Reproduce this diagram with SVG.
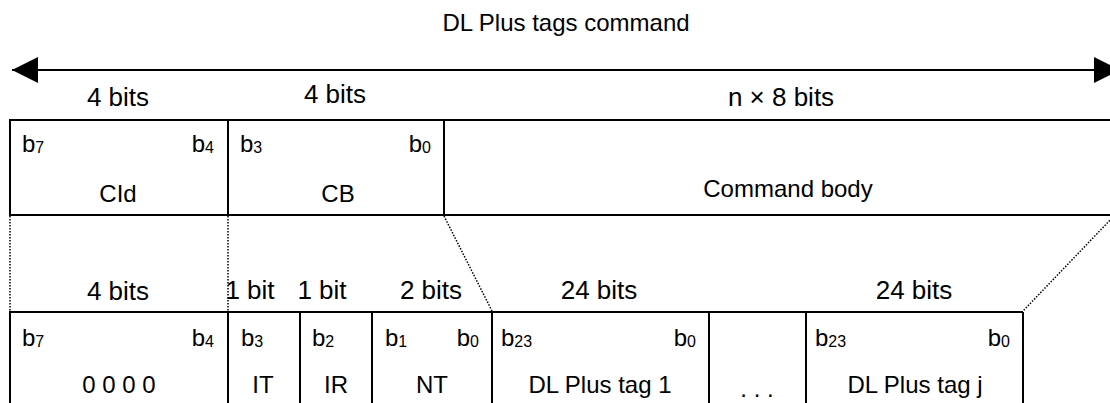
<svg xmlns="http://www.w3.org/2000/svg" width="1110" height="403" viewBox="0 0 1110 403">
  <defs>
    <marker id="head" viewBox="0 0 26 26" refX="26" refY="13" markerWidth="26" markerHeight="26" markerUnits="userSpaceOnUse" orient="auto-start-reverse">
      <path d="M0,0 L26,13 L0,26 Z" fill="#000"/>
    </marker>
  </defs>
  <style>
    text { font-family: "Liberation Sans", Arial, sans-serif; fill: #000; }
    .title { font-size: 24px; text-anchor: middle; }
    .width { font-size: 26px; text-anchor: middle; }
    .name { font-size: 24px; text-anchor: middle; }
    .bit { font-size: 24px; }
    .bit tspan { font-size: 16px; }
    .end { text-anchor: end; }
    .box { fill: none; stroke: #000; stroke-width: 2; }
    .dot { fill: none; stroke: #000; stroke-width: 1.5; stroke-dasharray: 1.5 1.5; }
    .span { stroke: #000; stroke-width: 2; }
  </style>

  <rect width="1110" height="403" fill="#fff"/>

  <!-- overall length of the command -->
  <g id="title">
    <text class="title" x="566" y="31">DL Plus tags command</text>
  </g>

  <!-- field widths, upper row -->
  <g id="upper-widths">
    <text class="width" x="118" y="106">4 bits</text>
    <text class="width" x="335" y="103">4 bits</text>
    <text class="width" x="781" y="106">n × 8 bits</text>
  </g>

  <!-- upper row: command octet and body -->
  <g id="upper-row">
    <path class="box" d="M1112,120 H10 V215 H1112"/>
    <path class="box" d="M228,120 V215 M444,120 V215"/>
  </g>
  <g id="cid">
    <text class="bit" x="22" y="152">b<tspan dy="1">7</tspan></text>
    <text class="bit end" x="214" y="152">b<tspan dy="1">4</tspan></text>
    <text class="name" x="118" y="202">CId</text>
  </g>
  <g id="cb">
    <text class="bit" x="240" y="152">b<tspan dy="1">3</tspan></text>
    <text class="bit end" x="431" y="152">b<tspan dy="1">0</tspan></text>
    <text class="name" x="338" y="202">CB</text>
  </g>
  <g id="command-body">
    <text class="name" x="788" y="197">Command body</text>
  </g>

  <!-- field widths, lower row -->
  <g id="lower-widths">
    <text class="width" x="118" y="300">4 bits</text>
    <text class="width" x="250" y="299">1 bit</text>
    <text class="width" x="322" y="299">1 bit</text>
    <text class="width" x="431" y="299">2 bits</text>
    <text class="width" x="599" y="299">24 bits</text>
    <text class="width" x="914" y="299">24 bits</text>
  </g>

  <!-- lower row: expanded fields -->
  <g id="lower-row">
    <path class="box" d="M1023,312 H10 V404"/>
    <path class="box" d="M228,312 V404 M300,312 V404 M372,312 V404 M492,312 V404 M709,312 V404 M806,312 V404 M1023,312 V404"/>
  </g>
  <g id="field-cid">
    <text class="bit" x="22" y="346">b<tspan dy="1">7</tspan></text>
    <text class="bit end" x="214" y="346">b<tspan dy="1">4</tspan></text>
    <text class="name" x="119" y="393">0 0 0 0</text>
  </g>
  <g id="field-it">
    <text class="bit" x="241" y="346">b<tspan dy="1">3</tspan></text>
    <text class="name" x="263" y="393">IT</text>
  </g>
  <g id="field-ir">
    <text class="bit" x="312" y="346">b<tspan dy="1">2</tspan></text>
    <text class="name" x="336" y="393">IR</text>
  </g>
  <g id="field-nt">
    <text class="bit" x="385" y="346">b<tspan dy="1">1</tspan></text>
    <text class="bit end" x="479" y="346">b<tspan dy="1">0</tspan></text>
    <text class="name" x="432" y="393">NT</text>
  </g>
  <g id="tag-1">
    <text class="bit" x="501" y="346">b<tspan dy="1">23</tspan></text>
    <text class="bit end" x="696" y="346">b<tspan dy="1">0</tspan></text>
    <text class="name" x="600" y="393">DL Plus tag 1</text>
  </g>
  <g id="ellipsis">
    <text class="name" x="757" y="397">. . .</text>
  </g>
  <g id="tag-j">
    <text class="bit" x="815" y="346">b<tspan dy="1">23</tspan></text>
    <text class="bit end" x="1010" y="346">b<tspan dy="1">0</tspan></text>
    <text class="name" x="915" y="393">DL Plus tag j</text>
  </g>

  <!-- connectors: span arrow and dotted expansion guides -->
  <g id="connectors">
    <line class="span" x1="12" y1="70" x2="1120" y2="70" marker-start="url(#head)" marker-end="url(#head)"/>
    <path class="dot" d="M10,216 V311"/>
    <path class="dot" d="M228,216 V311"/>
    <path class="dot" d="M444,216 L492,311"/>
    <path class="dot" d="M1114,216 L1023,311"/>
  </g>
</svg>
